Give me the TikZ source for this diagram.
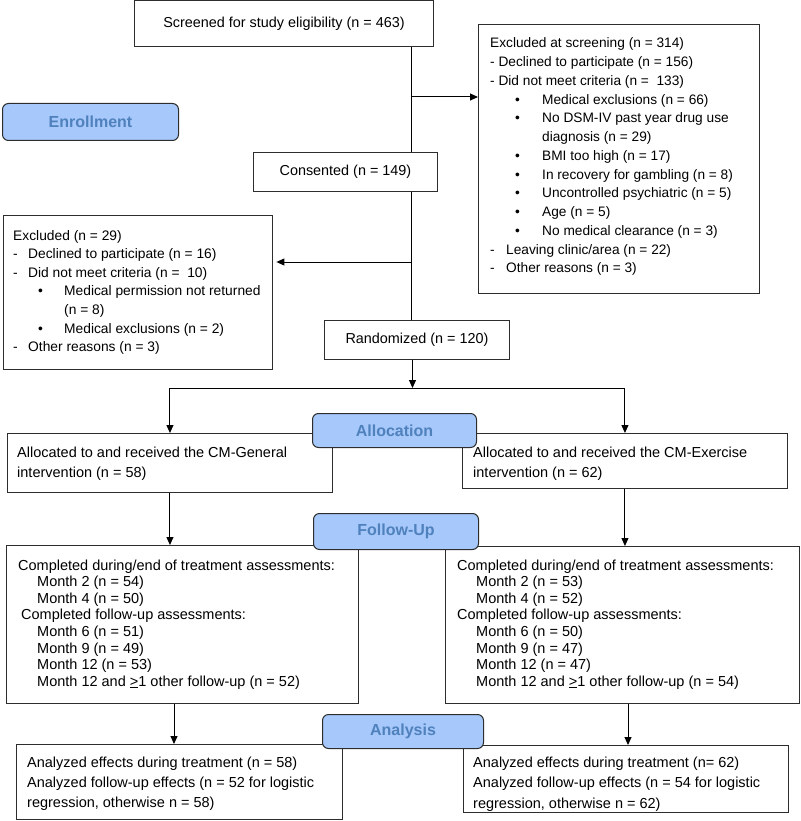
\documentclass[tikz,border=0pt]{standalone}
\usepackage{fontspec}
\setmainfont{Liberation Sans}
\usetikzlibrary{arrows.meta}
\definecolor{tagfill}{RGB}{167,200,250}
\definecolor{tagtext}{RGB}{79,129,189}
\definecolor{boxline}{RGB}{45,45,45}
\newcommand{\bul}[2]{\hspace*{#1}\makebox[#2][l]{\textbullet}}
\newcommand{\dsh}[1]{\makebox[#1][l]{-}}
\begin{document}
\begin{tikzpicture}[x=1pt,y=-1pt,
  box/.style={draw=boxline, line width=0.9pt, fill=white, rectangle, inner sep=0pt, anchor=north west, font=\fontsize{14.4}{17}\selectfont},
  tagbox/.style={draw=boxline, line width=1pt, fill=tagfill, rounded corners=6pt, inner sep=0pt, anchor=north west, text=tagtext, font=\fontsize{16}{19}\selectfont\bfseries},
  txt/.style={inner sep=0pt, anchor=base west},
  arr/.style={draw=black, line width=1pt, -{Triangle[length=8pt,width=7pt]}},
  ln/.style={draw=black, line width=1pt}]
\useasboundingbox (0,0) rectangle (800,821);

% ---------- boxes ----------
\node[box, minimum width=299pt, minimum height=45.5pt] (scr) at (134,0.5) {Screened for study eligibility (n = 463)};
\node[box, minimum width=281pt, minimum height=269pt] (exscr) at (478,24) {};
\node[box, minimum width=184pt, minimum height=39pt] (cons) at (253,152) {Consented (n = 149)};
\node[box, minimum width=269.5pt, minimum height=154pt] (ex29) at (2.5,215) {};
\node[box, minimum width=185pt, minimum height=39pt] (rand) at (324,320) {Randomized (n = 120)};
\node[box, minimum width=325pt, minimum height=59pt] (allocL) at (7,433) {};
\node[box, minimum width=325pt, minimum height=55pt] (allocR) at (462,433) {};
\node[box, minimum width=352pt, minimum height=158pt] (followL) at (6,545) {};
\node[box, minimum width=354pt, minimum height=157pt] (followR) at (445,546) {};
\node[box, minimum width=326pt, minimum height=75pt] (anaL) at (16,744) {};
\node[box, minimum width=325pt, minimum height=67pt] (anaR) at (463,745) {};

% ---------- box texts ----------
\node[txt, font=\fontsize{13.7}{18.75}\selectfont] (exscrT) at (490,48) {\begin{tabular}[t]{@{}l@{}}
Excluded at screening (n = 314)\\
- Declined to participate (n = 156)\\
- Did not meet criteria (n =\ \ 133)\\
\bul{25pt}{27pt}Medical exclusions (n = 66)\\
\bul{25pt}{27pt}No DSM-IV past year drug use\\
\hspace*{52pt}diagnosis (n = 29)\\
\bul{25pt}{27pt}BMI too high (n = 17)\\
\bul{25pt}{27pt}In recovery for gambling (n = 8)\\
\bul{25pt}{27pt}Uncontrolled psychiatric (n = 5)\\
\bul{25pt}{27pt}Age (n = 5)\\
\bul{25pt}{27pt}No medical clearance (n = 3)\\
\dsh{16pt}Leaving clinic/area (n = 22)\\
\dsh{16pt}Other reasons (n = 3)
\end{tabular}};

\node[txt, font=\fontsize{13.8}{18.6}\selectfont] (ex29T) at (13,240) {\begin{tabular}[t]{@{}l@{}}
Excluded (n = 29)\\
\dsh{15pt}Declined to participate (n = 16)\\
\dsh{15pt}Did not meet criteria (n =\ \ 10)\\
\bul{25pt}{26pt}Medical permission not returned\\
\hspace*{51pt}(n = 8)\\
\bul{25pt}{26pt}Medical exclusions (n = 2)\\
\dsh{15pt}Other reasons (n = 3)
\end{tabular}};

\node[txt, font=\fontsize{14.5}{20}\selectfont] (allocLT) at (17,457.5) {\begin{tabular}[t]{@{}l@{}}
Allocated to and received the CM-General\\
intervention (n = 58)
\end{tabular}};
\node[txt, font=\fontsize{14.5}{20}\selectfont] (allocRT) at (473,457.5) {\begin{tabular}[t]{@{}l@{}}
Allocated to and received the CM-Exercise\\
intervention (n = 62)
\end{tabular}};

\node[txt, font=\fontsize{14.5}{16.6}\selectfont] (followLT) at (18,570) {\begin{tabular}[t]{@{}l@{}}
Completed during/end of treatment assessments:\\
\hspace*{19pt}Month 2 (n = 54)\\
\hspace*{19pt}Month 4 (n = 50)\\
\hspace*{3pt}Completed follow-up assessments:\\
\hspace*{19pt}Month 6 (n = 51)\\
\hspace*{19pt}Month 9 (n = 49)\\
\hspace*{19pt}Month 12 (n = 53)\\
\hspace*{19pt}Month 12 and \underline{>}1 other follow-up (n = 52)
\end{tabular}};
\node[txt, font=\fontsize{14.5}{16.6}\selectfont] (followRT) at (457,570) {\begin{tabular}[t]{@{}l@{}}
Completed during/end of treatment assessments:\\
\hspace*{19pt}Month 2 (n = 53)\\
\hspace*{19pt}Month 4 (n = 52)\\
Completed follow-up assessments:\\
\hspace*{19pt}Month 6 (n = 50)\\
\hspace*{19pt}Month 9 (n = 47)\\
\hspace*{19pt}Month 12 (n = 47)\\
\hspace*{19pt}Month 12 and \underline{>}1 other follow-up (n = 54)
\end{tabular}};

\node[txt, font=\fontsize{14.5}{19.8}\selectfont] (anaLT) at (27,767.5) {\begin{tabular}[t]{@{}l@{}}
Analyzed effects during treatment (n = 58)\\
Analyzed follow-up effects (n = 52 for logistic\\
regression, otherwise n = 58)
\end{tabular}};
\node[txt, font=\fontsize{14.5}{20.4}\selectfont] (anaRT) at (473,767.5) {\begin{tabular}[t]{@{}l@{}}
Analyzed effects during treatment (n= 62)\\
Analyzed follow-up effects (n = 54 for logistic\\
regression, otherwise n = 62)
\end{tabular}};

% ---------- connectors ----------
\coordinate (spine) at (411.5,0);
\coordinate (b1) at (411.5,97);
\coordinate (b2) at (411.5,262);
\coordinate (split) at (412.5,388);
\coordinate (cL) at (174,0);
\coordinate (cR) at (628,0);

\draw[ln] (scr.south -| spine) -- (cons.north -| spine);
\draw[ln] (cons.south -| spine) -- (rand.north -| spine);
\draw[arr] (b1) -- (b1 -| exscr.west);
\draw[arr, shorten >=3.5pt] (b2) -- (b2 -| ex29.east);
\draw[arr] (rand.south -| split) -- (split);
\draw[ln] (split) -- (split -| allocL.north) ;
\draw[ln] (split) -- (split -| allocR.north) ;
\draw[arr] (split -| allocL.north) -- (allocL.north);
\draw[arr] (split -| allocR.north) -- (allocR.north);
\draw[arr] (allocL.south) -- (allocL.south |- followL.north);
\draw[arr] (allocR.south) -- (allocR.south |- followR.north);
\draw[arr] (followL.south -| cL) -- (anaL.north -| cL);
\draw[arr] (followR.south -| cR) -- (anaR.north -| cR);

% ---------- stage tags ----------
\node[tagbox, minimum width=176pt, minimum height=37pt] (enroll) at (2,103) {Enrollment};
\node[tagbox, minimum width=164pt, minimum height=34pt] (alloc) at (312,413) {Allocation};
\node[tagbox, minimum width=165pt, minimum height=36pt] (follow) at (313,513) {Follow-Up};
\node[tagbox, minimum width=161pt, minimum height=34pt] (analysis) at (322,714) {Analysis};
\end{tikzpicture}
\end{document}
